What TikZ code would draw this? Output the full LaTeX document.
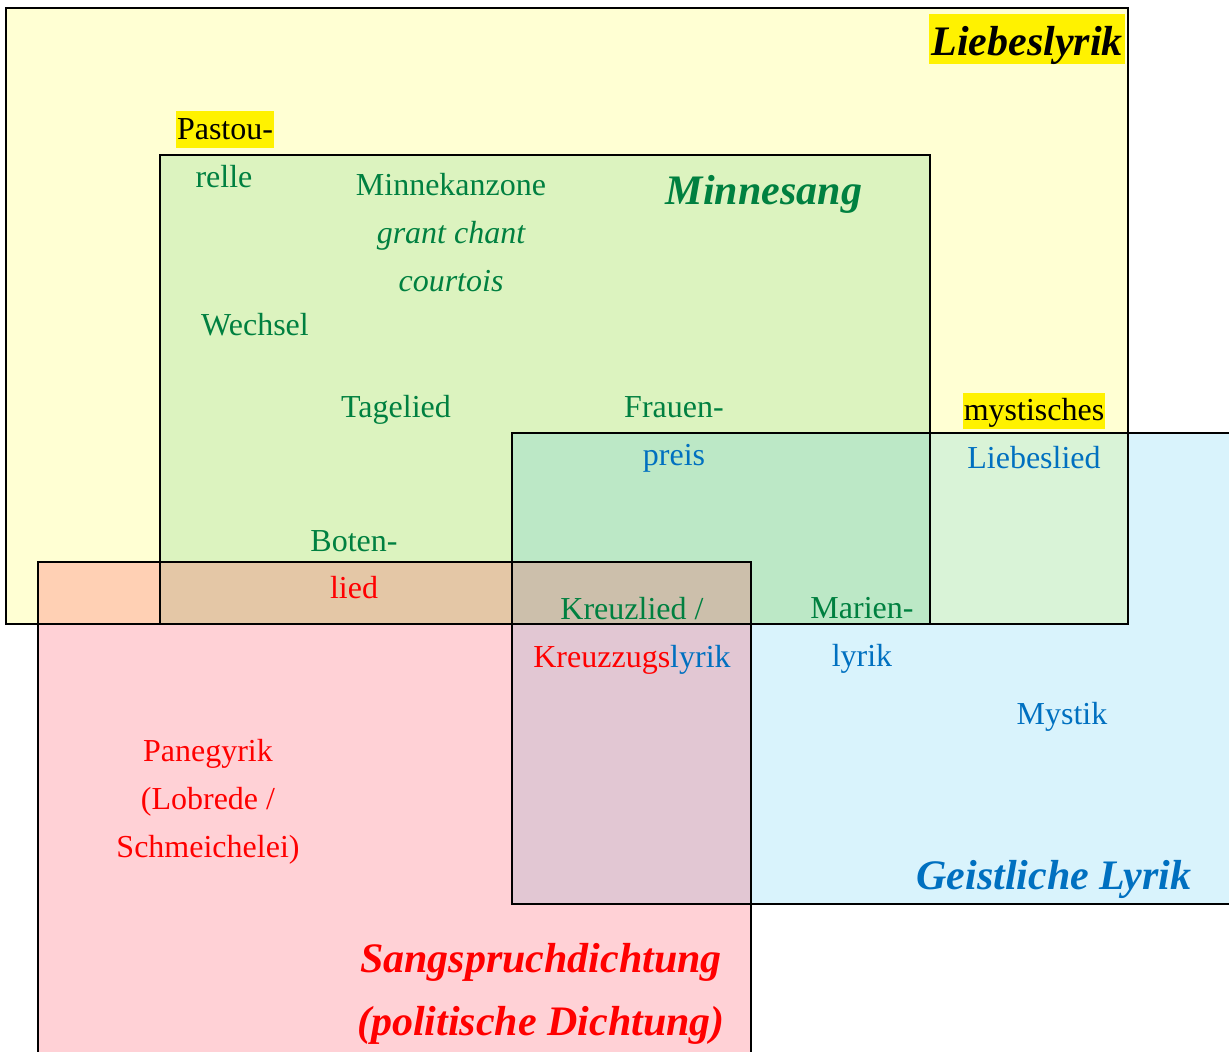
\documentclass[tikz,border=0pt]{standalone}
\usepackage{fontspec}
\setmainfont{Liberation Serif}
\definecolor{tgreen}{RGB}{0,128,64}
\definecolor{tblue}{RGB}{0,112,192}
\definecolor{tred}{RGB}{255,0,0}
\definecolor{fyellow}{RGB}{255,255,120}
\definecolor{fgreen}{RGB}{40,180,90}
\definecolor{fblue}{RGB}{20,180,235}
\definecolor{fred}{RGB}{255,70,90}
\begin{document}
\begin{tikzpicture}[x=1pt,y=-1pt,
  txt/.style={anchor=base,inner sep=0pt,font=\fontsize{32}{38}\selectfont},
  ttl/.style={anchor=base,inner sep=0pt,font=\fontsize{42}{50}\selectfont\bfseries\itshape},
  frame/.style={draw=black,line width=1.4pt}]
\useasboundingbox (0,0) rectangle (1229,1052);
\begin{scope}
\clip (0,0) rectangle (1229,1052);
% fills
\fill[fyellow,fill opacity=0.33] (6,8) rectangle (1128,624);
\fill[fgreen,fill opacity=0.16] (160,155) rectangle (930,624);
\fill[fblue,fill opacity=0.16] (512,433) rectangle (1229,904);
\fill[fred,fill opacity=0.25] (38,562) rectangle (751,1060);
% frames
\draw[frame] (6,8) rectangle (1128,624);
\draw[frame] (160,155) rectangle (930,624);
\draw[frame] (512,433) rectangle (1229.5,904);
\draw[frame] (38,562) rectangle (751,1070);
\end{scope}
% titles
\node[ttl,fill=yellow,text height=40pt,text depth=8pt,inner xsep=2pt,inner ysep=1pt] (liebes) at (1027,55) {Liebeslyrik};
\node[ttl,text=tgreen] (minnesang) at (764,204) {Minnesang};
\node[ttl,text=tblue] (geistl) at (1054,889) {Geistliche Lyrik};
\node[ttl,text=tred] (sang1) at (541,972) {Sangspruchdichtung};
\node[ttl,text=tred] (sang2) at (541,1035) {(politische Dichtung)};
% texts
\node[txt,fill=yellow,text height=28pt,text depth=8pt,inner xsep=1pt,inner ysep=0.5pt] (pastou) at (225,139) {Pastou-};
\node[txt,text=tgreen] (relle) at (224,187) {relle};
\node[txt,text=tgreen] (minnek) at (451,195) {Minnekanzone};
\node[txt,text=tgreen,font=\fontsize{32}{38}\selectfont\itshape] (grant) at (451,243) {grant chant};
\node[txt,text=tgreen,font=\fontsize{32}{38}\selectfont\itshape] (court) at (451,291) {courtois};
\node[txt,text=tgreen] (wechsel) at (255,335) {Wechsel};
\node[txt,text=tgreen] (tagelied) at (396,417) {Tagelied};
\node[txt,text=tgreen] (frauen) at (674,417) {Frauen-};
\node[txt,text=tblue] (preis) at (674,465) {preis};
\node[txt,fill=yellow,text height=27pt,text depth=8pt,inner xsep=1pt,inner ysep=0.5pt] (myst) at (1034,420) {mystisches};
\node[txt,text=tblue] (liebeslied) at (1034,468) {Liebeslied};
\node[txt,text=tgreen] (boten) at (354,551) {Boten-};
\node[txt,text=tred] (lied) at (354,598) {lied};
\node[txt,text=tgreen] (kreuzlied) at (632,619) {Kreuzlied /};
\node[txt] (kreuzzug) at (632,667) {\textcolor{tred}{Kreuzzugs}\textcolor{tblue}{lyrik}};
\node[txt,text=tgreen] (marien) at (862,618) {Marien-};
\node[txt,text=tblue] (lyrik) at (862,666) {lyrik};
\node[txt,text=tblue] (mystik) at (1062,724) {Mystik};
\node[txt,text=tred] (paneg) at (208,761) {Panegyrik};
\node[txt,text=tred] (lobrede) at (208,809) {(Lobrede /};
\node[txt,text=tred] (schmei) at (208,857) {Schmeichelei)};
\end{tikzpicture}
\end{document}
